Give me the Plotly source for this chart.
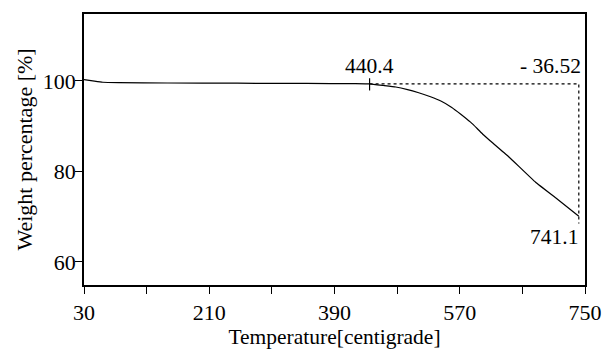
import plotly.graph_objects as go

temperature = [30, 45, 57, 80, 150, 250, 350, 420, 440.4, 460, 478, 495, 511, 528, 543.5, 558, 571.5, 585.5, 595, 604, 613.6, 640, 679, 710, 741.1]
weight = [100.3, 99.95, 99.72, 99.62, 99.55, 99.5, 99.45, 99.4, 99.35, 99.0, 98.67, 98.1, 97.4, 96.5, 95.5, 94.2, 92.66, 90.9, 89.5, 88.1, 86.8, 83.3, 77.6, 73.9, 70.1]

onset_temp = 440.4
end_temp = 741.1
onset_weight = 99.37
dotted_bottom = 68.5
loss_label = "- 36.52"

x_ticks = [30, 120, 210, 300, 390, 480, 570, 660, 750]
x_ticktext = ["30", "", "210", "", "390", "", "570", "", "750"]
y_ticks = [60, 80, 100]

font = "Liberation Serif"
black = "black"
tick_size = 22
text_size = 21.5

fig = go.Figure()
fig.add_trace(go.Scatter(x=temperature, y=weight, mode="lines",
                         line=dict(color=black, width=1.2, shape="spline", smoothing=0.3),
                         showlegend=False, hoverinfo="skip"))
fig.add_trace(go.Scatter(x=[onset_temp, end_temp, end_temp], y=[onset_weight, onset_weight, dotted_bottom],
                         mode="lines", line=dict(color=black, width=1.2, dash="dot"),
                         showlegend=False, hoverinfo="skip"))
fig.add_trace(go.Scatter(x=[onset_temp, onset_temp], y=[100.6, 97.9], mode="lines",
                         line=dict(color=black, width=1.2), showlegend=False, hoverinfo="skip"))

fig.add_annotation(x=onset_temp, y=100.2, text=str(onset_temp), showarrow=False,
                   xanchor="center", yanchor="bottom", font=dict(family=font, size=text_size, color=black))
fig.add_annotation(x=end_temp + 6, y=100.2, text=loss_label, showarrow=False,
                   xanchor="right", yanchor="bottom", font=dict(family=font, size=text_size, color=black))
fig.add_annotation(x=end_temp + 2, y=68.6, text=str(end_temp), showarrow=False,
                   xanchor="right", yanchor="top", font=dict(family=font, size=text_size, color=black))

fig.update_xaxes(range=[30, 750], tickvals=x_ticks, ticktext=x_ticktext, ticks="outside", ticklen=7,
                 tickwidth=1.2, tickcolor=black, showline=True, linecolor=black, linewidth=1.5,
                 mirror=True, showgrid=False, zeroline=False, ticklabelstandoff=0,
                 title=dict(text="Temperature[centigrade]", font=dict(family=font, size=text_size, color=black), standoff=2),
                 tickfont=dict(family=font, size=tick_size, color=black))
fig.update_yaxes(range=[54.9, 114.8], tickvals=y_ticks, ticks="outside", ticklen=7,
                 tickwidth=1.2, tickcolor=black, showline=True, linecolor=black, linewidth=1.5,
                 mirror=True, showgrid=False, zeroline=False, ticklabelstandoff=-5,
                 title=dict(text="Weight percentage [%]", font=dict(family=font, size=22, color=black), standoff=4),
                 tickfont=dict(family=font, size=tick_size, color=black))
fig.update_layout(width=614, height=354, margin=dict(l=84, r=17, t=12, b=59),
                  font=dict(family=font),
                  paper_bgcolor="white", plot_bgcolor="white")
fig.write_html("out.html")
